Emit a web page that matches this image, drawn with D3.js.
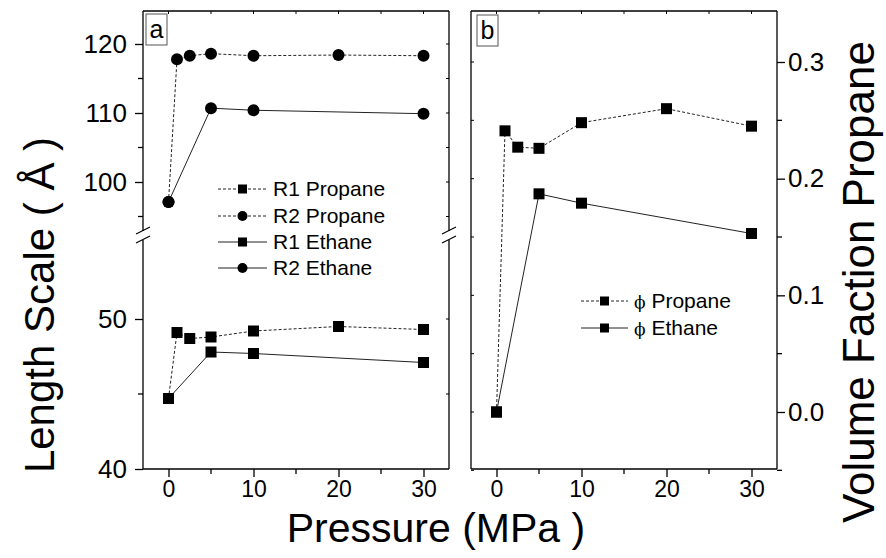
<!DOCTYPE html>
<html><head><meta charset="utf-8">
<script src="https://cdn.jsdelivr.net/npm/d3@7"></script>
<style>body{margin:0;background:#fff}svg{display:block}text{font-family:"Liberation Sans",Arial,sans-serif;fill:#000}</style>
</head><body><svg id="c" width="886" height="558"></svg>
<script>
// ---- data ----
const pressureR2Propane = [0, 1, 2.5, 5, 10, 20, 30];
const r2Propane = [97.1, 117.8, 118.3, 118.6, 118.3, 118.4, 118.3];
const pressureR2Ethane = [0, 5, 10, 30];
const r2Ethane = [97.1, 110.7, 110.4, 109.9];
const pressureR1Propane = [0, 1, 2.5, 5, 10, 20, 30];
const r1Propane = [44.7, 49.1, 48.7, 48.8, 49.2, 49.5, 49.3];
const pressureR1Ethane = [0, 5, 10, 30];
const r1Ethane = [44.7, 47.8, 47.7, 47.1];
const pressurePhiPropane = [0, 1, 2.5, 5, 10, 20, 30];
const phiPropane = [0.0, 0.241, 0.227, 0.226, 0.248, 0.260, 0.245];
const pressurePhiEthane = [0, 5, 10, 30];
const phiEthane = [0.0, 0.187, 0.179, 0.153];
const xTicks = [0, 10, 20, 30];
const upperTicks = [100, 110, 120];
const lowerTicks = [40, 50];
const phiTicks = [0.0, 0.1, 0.2, 0.3];
const legendA = ["R1 Propane", "R2 Propane", "R1 Ethane", "R2 Ethane"];
const legendB = ["Propane", "Ethane"];

const svg = d3.select("#c");
const TOP = 11, BOT = 469;
const xA = d3.scaleLinear().domain([-3, 33]).range([143, 449]);
const xB = d3.scaleLinear().domain([-3, 33]).range([471, 777]);
const yUp = d3.scaleLinear().domain([100, 120]).range([182, 44]);
const yLow = d3.scaleLinear().domain([40, 50]).range([469, 319]);
const yPhi = d3.scaleLinear().domain([0, 0.3]).range([412, 62]);
const BREAK_UP = 231, BREAK_LOW = 240;

const ink = "#000";
function line(g, x1, y1, x2, y2, w) {
  g.append("line").attr("x1", x1).attr("y1", y1).attr("x2", x2).attr("y2", y2)
   .attr("stroke", ink).attr("stroke-width", w || 1.3);
}

// ---- Panel a frame ----
const ga = svg.append("g");
const L = xA.range()[0], R = xA.range()[1];
line(ga, L, TOP, R, TOP);
line(ga, L, BOT, R, BOT);
line(ga, L, TOP, L, BREAK_UP);
line(ga, L, BREAK_LOW, L, BOT);
line(ga, R, TOP, R, BREAK_UP);
line(ga, R, BREAK_LOW, R, BOT);
[L, R].forEach(xx => {
  line(ga, xx - 7, BREAK_UP + 3, xx + 7, BREAK_UP - 4, 1.2);
  line(ga, xx - 7, BREAK_LOW + 3, xx + 7, BREAK_LOW - 4, 1.2);
});

// Upper y axis ticks
const upAxis = d3.axisLeft(yUp).tickValues(upperTicks).tickSize(8).tickPadding(8).tickFormat(d3.format("d"));
const gu = ga.append("g").attr("transform", `translate(${L},0)`).call(upAxis);
const upMinor = [95, 105, 115];
upMinor.forEach(v => line(ga, L - 5, yUp(v), L, yUp(v)));
upperTicks.concat(upMinor).forEach(v => line(ga, R - 3, yUp(v), R, yUp(v), 1));
// Lower y axis ticks
const lowAxis = d3.axisLeft(yLow).tickValues(lowerTicks).tickSize(8).tickPadding(8).tickFormat(d3.format("d"));
const gl = ga.append("g").attr("transform", `translate(${L},0)`).call(lowAxis);
line(ga, L - 5, yLow(45), L, yLow(45));
[45, 50].forEach(v => line(ga, R - 3, yLow(v), R, yLow(v), 1));

// x axis
function xAxisDraw(g, xs) {
  const ax = d3.axisBottom(xs).tickValues(xTicks).tickSize(8).tickPadding(4).tickFormat(d3.format("d"));
  const gx = g.append("g").attr("transform", `translate(0,${BOT})`).call(ax);
  [5, 15, 25].forEach(v => line(g, xs(v), BOT, xs(v), BOT + 5));
  xTicks.concat([5, 15, 25]).forEach(v => line(g, xs(v), TOP, xs(v), TOP + 3, 1));
  return gx;
}
const gxa = xAxisDraw(ga, xA);

// ---- Panel b frame ----
const gb = svg.append("g");
const BL = xB.range()[0], BR = xB.range()[1];
line(gb, BL, TOP, BR, TOP);
line(gb, BL, BOT, BR, BOT);
line(gb, BL, TOP, BL, BOT);
const gxb = xAxisDraw(gb, xB);
const phiAxis = d3.axisRight(yPhi).tickValues(phiTicks).tickSize(8).tickPadding(3).tickFormat(d3.format(".1f"));
const gp = gb.append("g").attr("transform", `translate(${BR},0)`).call(phiAxis);
const phiMinor = [-0.05, 0.05, 0.15, 0.25];
phiMinor.forEach(v => line(gb, BR, yPhi(v), BR + 5, yPhi(v)));
phiTicks.concat(phiMinor).forEach(v => line(gb, BL, yPhi(v), BL + 3, yPhi(v), 1));

// style axes
svg.selectAll(".domain").attr("stroke", ink).attr("stroke-width", 1.3);
svg.selectAll(".tick line").attr("stroke", ink).attr("stroke-width", 1.3);
svg.selectAll(".tick text").style("font-size", "26px").attr("fill", ink);
gxa.selectAll(".tick text").style("font-size", "23px");
gxb.selectAll(".tick text").style("font-size", "23px");
gu.select(".domain").remove(); gl.select(".domain").remove();
gxa.select(".domain").remove(); gxb.select(".domain").remove(); gp.select(".domain").remove();
line(gb, BR, TOP, BR, BOT);

// ---- series ----
function series(g, xs, ys, px, py, dashed, marker) {
  const ln = d3.line().x((d, i) => xs(px[i])).y(d => ys(d));
  g.append("path").datum(py).attr("d", ln).attr("fill", "none").attr("stroke", "#222")
    .attr("stroke-width", 1).attr("stroke-dasharray", dashed ? "3,2" : null);
  py.forEach((v, i) => drawMarker(g, xs(px[i]), ys(v), marker));
}
function drawMarker(g, cx, cy, marker) {
  if (marker === "sq") g.append("rect").attr("x", cx - 5.5).attr("y", cy - 5.5).attr("width", 11).attr("height", 11).attr("fill", ink);
  else g.append("circle").attr("cx", cx).attr("cy", cy).attr("r", 6).attr("fill", ink);
}
series(ga, xA, yUp, pressureR2Propane, r2Propane, true, "ci");
series(ga, xA, yUp, pressureR2Ethane, r2Ethane, false, "ci");
series(ga, xA, yLow, pressureR1Propane, r1Propane, true, "sq");
series(ga, xA, yLow, pressureR1Ethane, r1Ethane, false, "sq");
series(gb, xB, yPhi, pressurePhiPropane, phiPropane, true, "sq");
series(gb, xB, yPhi, pressurePhiEthane, phiEthane, false, "sq");

// ---- legends ----
function legendItem(g, x1, x2, y, dashed, marker, label, phi) {
  g.append("line").attr("x1", x1).attr("x2", x2).attr("y1", y).attr("y2", y)
   .attr("stroke", "#222").attr("stroke-width", 1).attr("stroke-dasharray", dashed ? "3,2" : null);
  const cx = (x1 + x2) / 2;
  if (marker === "sq") g.append("rect").attr("x", cx - 4.5).attr("y", y - 4.5).attr("width", 9).attr("height", 9).attr("fill", ink);
  else g.append("circle").attr("cx", cx).attr("cy", y).attr("r", 5).attr("fill", ink);
  const t = g.append("text").attr("x", x2 + 6).attr("y", y + 7).style("font-size", "21px");
  if (phi) {
    t.append("tspan").attr("font-family", "DejaVu Serif").style("font-size", "17px").text("ϕ");
    t.append("tspan").text(" " + label);
  } else t.text(label);
}
const legAY = [189, 216, 242, 268];
const legAStyle = [[true, "sq"], [true, "ci"], [false, "sq"], [false, "ci"]];
legendA.forEach((s, i) => legendItem(ga, 218, 267, legAY[i], legAStyle[i][0], legAStyle[i][1], s, false));
const legBY = [301, 328];
legendB.forEach((s, i) => legendItem(gb, 581, 628, legBY[i], i === 0, "sq", s, true));

// panel labels
function panelLabel(g, x, y, s) {
  g.append("rect").attr("x", x).attr("y", y).attr("width", 21).attr("height", 31)
   .attr("fill", "#fff").attr("stroke", "#555").attr("stroke-width", 1);
  g.append("text").attr("x", x + 10.5).attr("y", y + 24).attr("text-anchor", "middle").style("font-size", "25px").text(s);
}
panelLabel(ga, 146, 14, "a");
panelLabel(gb, 477, 15, "b");

// ---- axis titles ----
svg.append("text").attr("transform", "translate(54,305) rotate(-90)").attr("text-anchor", "middle")
  .style("font-size", "42px").text("Length Scale ( Å )");
svg.append("text").attr("transform", "translate(874,282) rotate(-90)").attr("text-anchor", "middle")
  .style("font-size", "44px").text("Volume Faction Propane");
svg.append("text").attr("x", 436).attr("y", 542).attr("text-anchor", "middle")
  .style("font-size", "41px").text("Pressure (MPa )");
</script></body></html>
